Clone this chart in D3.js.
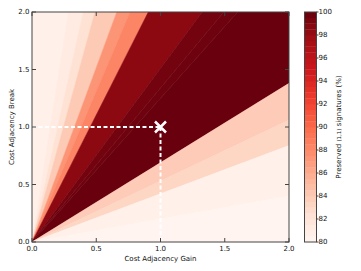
<!DOCTYPE html>
<html>
<head>
<meta charset="utf-8">
<script src="https://cdn.jsdelivr.net/npm/d3@7"></script>
<style>
  body { margin: 0; background: #fff; }
  svg text { font-family: "DejaVu Sans", sans-serif; fill: #111; }
</style>
</head>
<body>
<div id="chart"></div>
<script>
const W = 361, H = 271
const M = {left: 32, top: 12, right: 289, bottom: 242}

// wedge boundaries as slopes (break / gain), from steep to flat
const boundarySlopes = [Infinity, 7.07, 5.01, 4.08, 3.03, 2.62, 2.21, 1.51, 1.34, 1.25, 0.69, 0.53, 0.42, 0.2, 0]
// preserved (1,1) signatures (%) inside each wedge
const bandValues = [80.5, 81.2, 82.3, 84.0, 87.3, 88.3, 98.5, 99.5, 99.7, 99.95, 83.9, 83.2, 80.6, 80.1]

const xTicks = [0, 0.5, 1, 1.5, 2]
const yTicks = [0, 0.5, 1, 1.5, 2]
const cbTicks = [80, 82, 84, 86, 88, 90, 92, 94, 96, 98, 100]
const marker = {gain: 1, brk: 1}

// matplotlib "Reds"
const redsStops = ['#fff5f0', '#fee0d2', '#fcbba1', '#fc9272', '#fb6a4a', '#ef3b2c', '#cb181d', '#a50f15', '#67000d']
const color = d3.scaleLinear()
    .domain(d3.range(9).map(i => 80 + i * 2.5))
    .range(redsStops)
    .interpolate(d3.interpolateRgb)
    .clamp(true)

const x = d3.scaleLinear().domain([0, 2]).range([M.left, M.right])
const y = d3.scaleLinear().domain([0, 2]).range([M.bottom, M.top])

const svg = d3.select('#chart').append('svg')
    .attr('width', W)
    .attr('height', H)

svg.append('clipPath').attr('id', 'clip')
    .append('rect')
    .attr('x', M.left).attr('y', M.top)
    .attr('width', M.right - M.left).attr('height', M.bottom - M.top)

const R = 10
const ray = s => s === Infinity ? [0, R] : [R * Math.cos(Math.atan(s)), R * Math.sin(Math.atan(s))]
const wedges = bandValues.map((v, i) => ({
    v,
    pts: [[0, 0], ray(boundarySlopes[i]), ray(boundarySlopes[i + 1])]
}))

const plot = svg.append('g').attr('clip-path', 'url(#clip)')
plot.selectAll('.wedge')
    .data(wedges)
    .enter()
        .append('path')
        .attr('class', 'wedge')
        .attr('d', d => 'M' + d.pts.map(p => x(p[0]) + ',' + y(p[1])).join('L') + 'Z')
        .attr('fill', d => color(d.v))
        .attr('stroke', d => color(d.v))
        .attr('stroke-width', 0.5)

// dashed guide lines and marker
plot.append('line')
    .attr('x1', x(0)).attr('x2', x(marker.gain))
    .attr('y1', y(marker.brk)).attr('y2', y(marker.brk))
    .attr('stroke', '#fff').attr('stroke-width', 2).attr('stroke-dasharray', '4,2.5')
plot.append('line')
    .attr('x1', x(marker.gain)).attr('x2', x(marker.gain))
    .attr('y1', y(marker.brk)).attr('y2', y(0))
    .attr('stroke', '#fff').attr('stroke-width', 2).attr('stroke-dasharray', '4,2.5')
const mx = x(marker.gain), my = y(marker.brk), ms = 5.5
svg.append('path')
    .attr('d', `M${mx - ms},${my - ms}L${mx + ms},${my + ms}M${mx - ms},${my + ms}L${mx + ms},${my - ms}`)
    .attr('stroke', '#fff').attr('stroke-width', 2.5)

// frame
svg.append('rect')
    .attr('x', M.left).attr('y', M.top)
    .attr('width', M.right - M.left).attr('height', M.bottom - M.top)
    .attr('fill', 'none').attr('stroke', '#444').attr('stroke-width', 1)

// ticks on all four sides, pointing in
const tk = svg.append('g').attr('stroke', '#444').attr('stroke-width', 1)
xTicks.forEach(t => {
    tk.append('line').attr('x1', x(t)).attr('x2', x(t)).attr('y1', M.bottom).attr('y2', M.bottom - 4)
    tk.append('line').attr('x1', x(t)).attr('x2', x(t)).attr('y1', M.top).attr('y2', M.top + 4)
})
yTicks.forEach(t => {
    tk.append('line').attr('x1', M.left).attr('x2', M.left + 4).attr('y1', y(t)).attr('y2', y(t))
    tk.append('line').attr('x1', M.right).attr('x2', M.right - 4).attr('y1', y(t)).attr('y2', y(t))
})

svg.selectAll('.xtl')
    .data(xTicks)
    .enter()
        .append('text')
        .attr('class', 'xtl')
        .attr('x', d => x(d)).attr('y', 251)
        .attr('text-anchor', 'middle').attr('font-size', 7)
        .text(d => d.toFixed(1))
svg.selectAll('.ytl')
    .data(yTicks)
    .enter()
        .append('text')
        .attr('class', 'ytl')
        .attr('x', 29.5).attr('y', d => y(d)).attr('dy', '0.35em')
        .attr('text-anchor', 'end').attr('font-size', 7)
        .text(d => d.toFixed(1))

svg.append('text')
    .attr('x', (M.left + M.right) / 2).attr('y', 261)
    .attr('text-anchor', 'middle').attr('font-size', 7)
    .text('Cost Adjacency Gain')
svg.append('text')
    .attr('transform', `translate(14,${(M.top + M.bottom) / 2}) rotate(-90)`)
    .attr('text-anchor', 'middle').attr('font-size', 7)
    .text('Cost Adjacency Break')

// colorbar
const cb = {x0: 304.5, x1: 316.5}
const cy = d3.scaleLinear().domain([80, 100]).range([M.bottom, M.top])
const cbLevels = d3.range(80, 100, 0.5)
svg.selectAll('.cbband')
    .data(cbLevels)
    .enter()
        .append('rect')
        .attr('class', 'cbband')
        .attr('x', cb.x0).attr('width', cb.x1 - cb.x0)
        .attr('y', d => cy(d + 0.5)).attr('height', d => cy(d) - cy(d + 0.5) + 0.3)
        .attr('fill', d => color(d + 0.25))
svg.append('rect')
    .attr('x', cb.x0).attr('y', M.top)
    .attr('width', cb.x1 - cb.x0).attr('height', M.bottom - M.top)
    .attr('fill', 'none').attr('stroke', '#444').attr('stroke-width', 1)
cbTicks.forEach(t => {
    svg.append('line')
        .attr('x1', cb.x1).attr('x2', cb.x1 + 2)
        .attr('y1', cy(t)).attr('y2', cy(t))
        .attr('stroke', '#444')
})
svg.selectAll('.ctl')
    .data(cbTicks)
    .enter()
        .append('text')
        .attr('class', 'ctl')
        .attr('x', 318.5).attr('y', d => cy(d)).attr('dy', '0.35em')
        .attr('font-size', 7)
        .text(d => d)
const cl = svg.append('text')
    .attr('transform', `translate(341,${(M.top + M.bottom) / 2}) rotate(-90)`)
    .attr('text-anchor', 'middle').attr('font-size', 7)
cl.append('tspan').text('Preserved ')
cl.append('tspan').attr('font-size', 5.5).text('(1,1)')
cl.append('tspan').text(' signatures (%)')
</script>
</body>
</html>
